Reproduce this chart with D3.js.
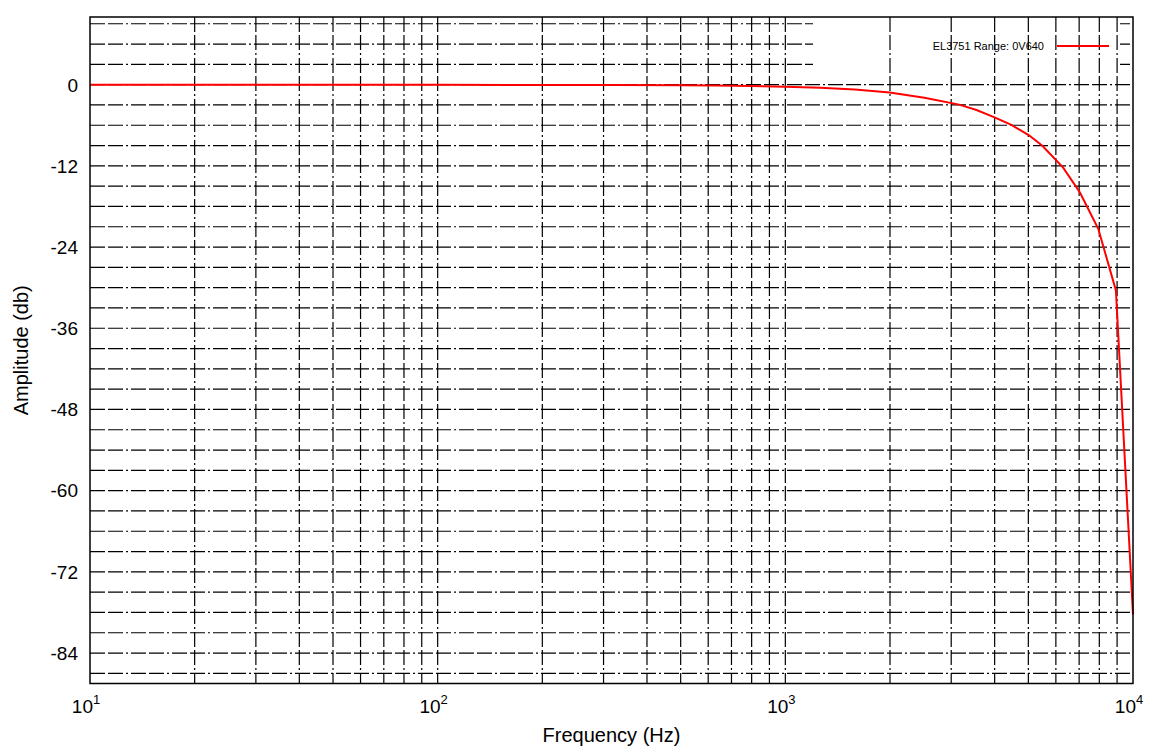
<!DOCTYPE html>
<html>
<head>
<meta charset="utf-8">
<script src="https://cdn.jsdelivr.net/npm/d3@7"></script>
<style>
  body { margin: 0; background: #fff; }
  text { font-family: "Liberation Sans", Arial, sans-serif; fill: #000; }
</style>
</head>
<body>
<svg id="chart" width="1162" height="754"></svg>
<script>
/// data
var freqHz = [10, 20, 50, 100, 200, 316, 501, 631, 794, 1000, 1259, 1585, 1995,
              2512, 3162, 3548, 3981, 4467, 5012, 5495, 6296, 7030, 7945, 8930, 10000];
var amplitudeDb = [0, -0.01, -0.02, -0.03, -0.04, -0.06, -0.1, -0.14, -0.2, -0.3, -0.47, -0.72, -1.15,
                   -1.95, -2.95, -3.75, -4.8, -5.95, -7.45, -9.06, -12.26, -15.9, -21.3, -30.4, -78.3];
var yTicks = [0, -12, -24, -36, -48, -60, -72, -84];
var xDecades = [1, 2, 3, 4];
var seriesName = "EL3751 Range: 0V640";

/// layout
var margin = {left: 90, right: 29, top: 17, bottom: 70.5};
var W = 1162, H = 754;
var plotW = W - margin.left - margin.right,
    plotH = H - margin.top - margin.bottom;

var svg = d3.select("#chart");
var g = svg.append("g")
           .attr("transform", "translate(" + margin.left + "," + margin.top + ")");

var x = d3.scaleLog().domain([10, 10000]).range([0, plotW]);
var y = d3.scaleLinear().domain([-88.5, 10]).range([plotH, 0]);

var dash = "15,3,15,3,2,3";

// horizontal grid every 3 dB
var hGrid = d3.range(9, -88, -3);
g.selectAll(".hgrid")
 .data(hGrid)
 .enter()
 .append("line")
 .attr("class", "hgrid")
 .attr("x1", 0)
 .attr("x2", plotW)
 .attr("y1", d => y(d))
 .attr("y2", d => y(d))
 .style("stroke", "#000")
 .style("stroke-width", 1.2)
 .style("stroke-dasharray", dash);

// legend background hides the horizontal grid under it
g.append("rect")
 .attr("x", 813 - margin.left)
 .attr("y", 0)
 .attr("width", 1120 - 813)
 .attr("height", 66 - margin.top)
 .style("fill", "#fff");

// vertical grid, decades and 2..9
var vGrid = x.ticks().filter(d => d > 10 && d < 10000);
g.selectAll(".vgrid")
 .data(vGrid)
 .enter()
 .append("line")
 .attr("class", "vgrid")
 .attr("x1", d => x(d))
 .attr("x2", d => x(d))
 .attr("y1", 0)
 .attr("y2", plotH)
 .style("stroke", "#000")
 .style("stroke-width", 1.2)
 .style("stroke-dasharray", dash);

// curve
var line = d3.line()
             .x((d, i) => x(freqHz[i]))
             .y(d => y(d));

g.append("path")
 .datum(amplitudeDb)
 .attr("d", line)
 .style("fill", "none")
 .style("stroke", "#ff0000")
 .style("stroke-width", 2);

// frame
g.append("rect")
 .attr("width", plotW)
 .attr("height", plotH)
 .style("fill", "none")
 .style("stroke", "#000")
 .style("stroke-width", 1.5);

// y tick labels
g.selectAll(".ytick")
 .data(yTicks)
 .enter()
 .append("text")
 .attr("class", "ytick")
 .attr("x", -12)
 .attr("y", d => y(d))
 .attr("dy", "0.36em")
 .attr("text-anchor", "end")
 .style("font-size", "19px")
 .text(d => d);

// x tick labels 10^n
var xt = g.selectAll(".xtick")
          .data(xDecades)
          .enter()
          .append("text")
          .attr("class", "xtick")
          .attr("x", d => x(Math.pow(10, d)) - 4)
          .attr("y", plotH + 29)
          .attr("text-anchor", "middle")
          .style("font-size", "19px");
xt.append("tspan").text("10");
xt.append("tspan")
  .attr("dy", -9)
  .style("font-size", "13px")
  .text(d => d);

// axis titles
svg.append("text")
   .attr("x", margin.left + plotW / 2)
   .attr("y", 742)
   .attr("text-anchor", "middle")
   .style("font-size", "20px")
   .text("Frequency (Hz)");

svg.append("text")
   .attr("transform", "translate(28," + (margin.top + plotH / 2 + 0) + ") rotate(-90)")
   .attr("text-anchor", "middle")
   .style("font-size", "20px")
   .text("Amplitude (db)");

// legend
svg.append("text")
   .attr("x", 1044)
   .attr("y", 49.5)
   .attr("text-anchor", "end")
   .style("font-size", "11px")
   .text(seriesName);

svg.append("line")
   .attr("x1", 1057)
   .attr("x2", 1109)
   .attr("y1", 46)
   .attr("y2", 46)
   .style("stroke", "#ff0000")
   .style("stroke-width", 2);
</script>
</body>
</html>
